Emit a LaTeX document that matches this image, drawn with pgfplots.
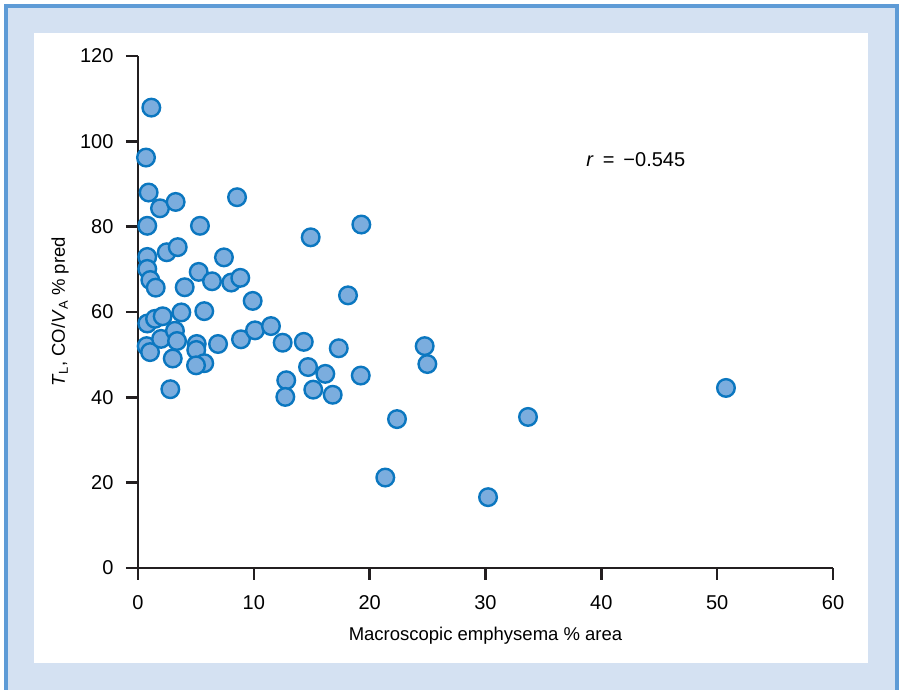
\documentclass[border=0pt]{standalone}
\usepackage{fontspec}
\setmainfont{Liberation Sans}
\usepackage{pgfplots}
\pgfplotsset{compat=1.18}
\definecolor{bgblue}{HTML}{D4E1F2}
\definecolor{frameblue}{HTML}{5E9BD6}
\definecolor{mfill}{HTML}{7BADDE}
\definecolor{medge}{HTML}{0B77C0}
\definecolor{axcol}{HTML}{231F20}
\begin{document}
\begin{tikzpicture}[font=\fontsize{18.5}{22}\selectfont]
\useasboundingbox (0,0) rectangle (902pt,690pt);
\fill[white] (0,0) rectangle (902pt,690pt);
\fill[bgblue] (6pt,0) rectangle (897pt,684pt);
\draw[frameblue, line width=4pt] (6pt,-10pt) -- (6pt,684pt) -- (897pt,684pt) -- (897pt,-10pt);
\fill[white] (34pt,27pt) rectangle (868pt,657pt);
\begin{axis}[
  at={(138pt,122pt)}, anchor=south west,
  scale only axis, width=695pt, height=512pt,
  xmin=0, xmax=60, ymin=0, ymax=120,
  axis x line=bottom, axis y line=left,
  axis line style={-, line width=2.4pt, color=axcol},
  every tick/.style={line width=2.4pt, color=axcol},
  tick align=outside,
  major tick length=12pt,
  xtick={0,10,...,60}, ytick={0,20,...,120},
  /pgf/number format/assume math mode=true,
  tick label style={font=\fontsize{20}{24}\selectfont},
  xticklabel style={yshift=-12pt},
  yticklabel style={xshift=-9pt},
  xlabel={Macroscopic emphysema \% area},
  ylabel={\textit{T}\textsubscript{L}, CO/\textit{V}\textsubscript{A} \% pred},
  xlabel style={at={(axis description cs:0.5,-0.133)}, anchor=center},
  ylabel style={at={(axis description cs:-0.112,0.5)}, anchor=center},
  clip=false,
]
\addplot[only marks, mark=*, mark size=8.8pt, mark options={fill=mfill, draw=medge, line width=2.4pt}] coordinates {
(1.15,107.9) (0.69,96.2) (0.92,88.0) (1.90,84.3) (3.25,85.8) (8.55,86.9)
(0.80,80.2) (5.35,80.2) (14.91,77.5) (19.28,80.5) (0.80,72.9) (0.80,70.1)
(1.06,67.5) (1.53,65.7) (2.48,74.0) (3.43,75.2) (7.42,72.8) (5.24,69.4)
(4.03,65.8) (6.39,67.2) (8.05,66.9) (8.83,68.0) (18.13,63.9) (9.90,62.6)
(0.80,57.3) (1.47,58.4) (2.13,59.0) (3.74,59.9) (5.72,60.2) (0.75,52.0)
(1.04,50.6) (1.99,53.7) (3.19,55.6) (3.37,53.2) (3.0,49.1) (5.07,52.5)
(5.03,51.1) (5.72,48.0) (5.01,47.5) (6.91,52.5) (8.89,53.6) (10.10,55.7)
(11.48,56.7) (12.49,52.8) (14.31,53.0) (17.33,51.5) (14.68,47.1) (16.17,45.5)
(19.23,45.1) (12.80,44.0) (12.72,40.1) (15.13,41.8) (16.81,40.6) (2.79,41.9)
(24.75,52.0) (24.98,47.8) (22.36,34.9) (21.35,21.2) (30.22,16.6) (33.67,35.4)
(50.76,42.2)
};
\node[anchor=west, inner sep=0pt, font=\fontsize{20}{24}\selectfont] at (axis cs:38.7,95.6) {\textit{r}\hspace{9pt}=\hspace{9pt}−0.545};
\end{axis}
\end{tikzpicture}
\end{document}
